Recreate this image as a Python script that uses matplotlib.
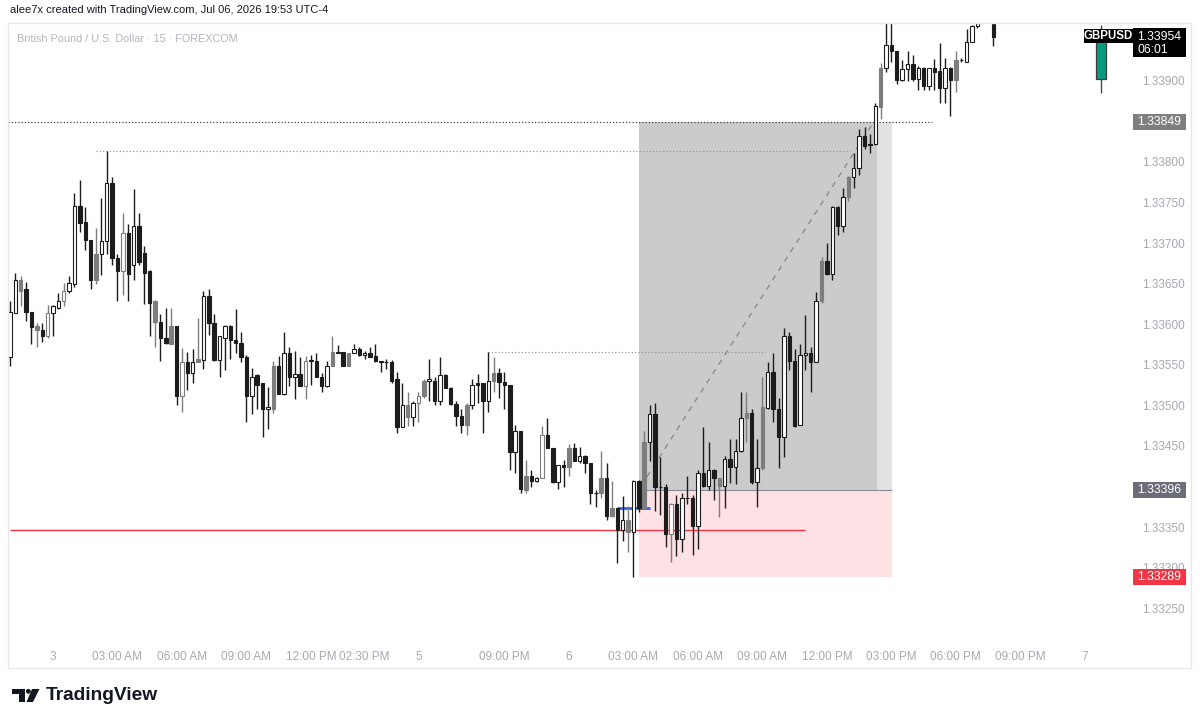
import matplotlib
matplotlib.use("Agg")
import matplotlib.pyplot as plt
from matplotlib.patches import Rectangle, Polygon, Circle
from matplotlib.transforms import Affine2D, blended_transform_factory

plt.rcParams["font.family"] = ["Liberation Sans", "DejaVu Sans"]

# GBPUSD 15m candles, Thu 22:00 -> Mon 19:45 (weekend gap removed)
OPEN = [1.33560, 1.33614, 1.33654, 1.33643, 1.33615, 1.33598, 1.33593, 1.33586, 1.33614, 1.33620,
        1.33629, 1.33641, 1.33649, 1.33746, 1.33726, 1.33704, 1.33655, 1.33687, 1.33702, 1.33774,
        1.33682, 1.33665, 1.33712, 1.33673, 1.33721, 1.33688, 1.33665, 1.33628, 1.33603, 1.33583,
        1.33576, 1.33598, 1.33512, 1.33554, 1.33540, 1.33553, 1.33556, 1.33635, 1.33601, 1.33556,
        1.33583, 1.33598, 1.33581, 1.33577, 1.33560, 1.33512, 1.33537, 1.33527, 1.33495, 1.33495,
        1.33548, 1.33514, 1.33565, 1.33535, 1.33539, 1.33524, 1.33555, 1.33555, 1.33535, 1.33524,
        1.33549, 1.33566, 1.33566, 1.33549, 1.33565, 1.33569, 1.33562, 1.33565, 1.33561, 1.33555,
        1.33554, 1.33553, 1.33532, 1.33473, 1.33500, 1.33486, 1.33503, 1.33512, 1.33530, 1.33530,
        1.33506, 1.33537, 1.33522, 1.33502, 1.33487, 1.33476, 1.33500, 1.33527, 1.33527, 1.33506,
        1.33530, 1.33540, 1.33529, 1.33525, 1.33442, 1.33468, 1.33396, 1.33413, 1.33407, 1.33410,
        1.33464, 1.33447, 1.33406, 1.33426, 1.33424, 1.33447, 1.33432, 1.33438, 1.33429, 1.33392,
        1.33392, 1.33411, 1.33364, 1.33373, 1.33347, 1.33359, 1.33344, 1.33407, 1.33374, 1.33455,
        1.33489, 1.33399, 1.33399, 1.33342, 1.33378, 1.33335, 1.33386, 1.33386, 1.33351, 1.33417,
        1.33401, 1.33421, 1.33410, 1.33401, 1.33434, 1.33424, 1.33444, 1.33484, 1.33491, 1.33406,
        1.33423, 1.33497, 1.33541, 1.33495, 1.33461, 1.33585, 1.33555, 1.33476, 1.33562, 1.33565,
        1.33554, 1.33629, 1.33678, 1.33662, 1.33744, 1.33721, 1.33757, 1.33781, 1.33793, 1.33832,
        1.33822, 1.33822, 1.33867, 1.33916, 1.33944, 1.33936, 1.33901, 1.33914, 1.33920, 1.33902,
        1.33915, 1.33894, 1.33915, 1.33912, 1.33891, 1.33915, 1.33901, 1.33926, 1.33923, 1.33948,
        1.33967, 1.33978, 1.33987, 1.33981]
HIGH = [1.33629, 1.33663, 1.33659, 1.33652, 1.33615, 1.33601, 1.33602, 1.33624, 1.33624, 1.33639,
        1.33651, 1.33659, 1.33762, 1.33777, 1.33744, 1.33704, 1.33718, 1.33756, 1.33813, 1.33781,
        1.33687, 1.33737, 1.33723, 1.33767, 1.33737, 1.33696, 1.33667, 1.33630, 1.33612, 1.33620,
        1.33620, 1.33598, 1.33571, 1.33566, 1.33570, 1.33608, 1.33641, 1.33643, 1.33612, 1.33586,
        1.33599, 1.33599, 1.33619, 1.33591, 1.33562, 1.33546, 1.33539, 1.33528, 1.33523, 1.33555,
        1.33561, 1.33590, 1.33572, 1.33567, 1.33559, 1.33561, 1.33562, 1.33565, 1.33540, 1.33555,
        1.33586, 1.33574, 1.33566, 1.33565, 1.33576, 1.33572, 1.33567, 1.33572, 1.33576, 1.33555,
        1.33557, 1.33556, 1.33541, 1.33528, 1.33517, 1.33506, 1.33517, 1.33532, 1.33557, 1.33535,
        1.33559, 1.33539, 1.33523, 1.33506, 1.33495, 1.33503, 1.33532, 1.33539, 1.33528, 1.33566,
        1.33560, 1.33546, 1.33541, 1.33525, 1.33476, 1.33468, 1.33433, 1.33421, 1.33412, 1.33474,
        1.33484, 1.33448, 1.33427, 1.33433, 1.33453, 1.33454, 1.33449, 1.33439, 1.33429, 1.33396,
        1.33444, 1.33429, 1.33407, 1.33374, 1.33388, 1.33376, 1.33408, 1.33408, 1.33468, 1.33501,
        1.33503, 1.33436, 1.33403, 1.33380, 1.33390, 1.33392, 1.33413, 1.33389, 1.33421, 1.33473,
        1.33455, 1.33422, 1.33411, 1.33438, 1.33458, 1.33458, 1.33517, 1.33516, 1.33496, 1.33458,
        1.33535, 1.33553, 1.33565, 1.33509, 1.33595, 1.33590, 1.33569, 1.33576, 1.33611, 1.33572,
        1.33640, 1.33683, 1.33700, 1.33746, 1.33745, 1.33768, 1.33783, 1.33811, 1.33841, 1.33843,
        1.33834, 1.33872, 1.33922, 1.33981, 1.33975, 1.33937, 1.33925, 1.33936, 1.33931, 1.33918,
        1.33917, 1.33916, 1.33927, 1.33946, 1.33928, 1.33917, 1.33936, 1.33928, 1.33963, 1.33969,
        1.33981, 1.33992, 1.33992, 1.33985]
LOW = [1.33548, 1.33614, 1.33623, 1.33604, 1.33576, 1.33572, 1.33578, 1.33583, 1.33586, 1.33619,
       1.33623, 1.33638, 1.33646, 1.33713, 1.33691, 1.33643, 1.33649, 1.33661, 1.33687, 1.33673,
       1.33629, 1.33636, 1.33628, 1.33655, 1.33673, 1.33625, 1.33586, 1.33572, 1.33555, 1.33576,
       1.33576, 1.33501, 1.33492, 1.33519, 1.33528, 1.33553, 1.33545, 1.33587, 1.33555, 1.33535,
       1.33544, 1.33557, 1.33565, 1.33553, 1.33479, 1.33489, 1.33495, 1.33461, 1.33471, 1.33491,
       1.33514, 1.33513, 1.33524, 1.33508, 1.33524, 1.33508, 1.33525, 1.33535, 1.33516, 1.33523,
       1.33549, 1.33565, 1.33548, 1.33549, 1.33565, 1.33561, 1.33557, 1.33559, 1.33554, 1.33541,
       1.33545, 1.33528, 1.33466, 1.33473, 1.33475, 1.33474, 1.33479, 1.33509, 1.33506, 1.33501,
       1.33500, 1.33521, 1.33501, 1.33474, 1.33466, 1.33463, 1.33496, 1.33503, 1.33466, 1.33492,
       1.33517, 1.33509, 1.33496, 1.33421, 1.33417, 1.33392, 1.33392, 1.33400, 1.33406, 1.33410,
       1.33447, 1.33405, 1.33397, 1.33399, 1.33413, 1.33432, 1.33429, 1.33417, 1.33379, 1.33375,
       1.33386, 1.33359, 1.33362, 1.33306, 1.33333, 1.33319, 1.33289, 1.33369, 1.33374, 1.33431,
       1.33370, 1.33365, 1.33326, 1.33307, 1.33314, 1.33319, 1.33379, 1.33316, 1.33323, 1.33400,
       1.33396, 1.33384, 1.33363, 1.33374, 1.33405, 1.33403, 1.33443, 1.33455, 1.33403, 1.33375,
       1.33421, 1.33495, 1.33480, 1.33423, 1.33436, 1.33544, 1.33473, 1.33476, 1.33544, 1.33517,
       1.33553, 1.33626, 1.33661, 1.33655, 1.33710, 1.33714, 1.33752, 1.33768, 1.33784, 1.33816,
       1.33811, 1.33821, 1.33853, 1.33911, 1.33923, 1.33896, 1.33899, 1.33899, 1.33900, 1.33888,
       1.33888, 1.33888, 1.33888, 1.33873, 1.33872, 1.33856, 1.33886, 1.33923, 1.33923, 1.33948,
       1.33965, 1.33973, 1.33973, 1.33943]
CLOSE = [1.33615, 1.33654, 1.33641, 1.33615, 1.33597, 1.33593, 1.33586, 1.33614, 1.33622, 1.33629,
         1.33641, 1.33651, 1.33746, 1.33725, 1.33704, 1.33655, 1.33687, 1.33702, 1.33774, 1.33681,
         1.33665, 1.33712, 1.33662, 1.33721, 1.33676, 1.33663, 1.33626, 1.33603, 1.33583, 1.33577,
         1.33598, 1.33512, 1.33554, 1.33540, 1.33554, 1.33557, 1.33635, 1.33601, 1.33556, 1.33585,
         1.33598, 1.33580, 1.33577, 1.33560, 1.33512, 1.33535, 1.33525, 1.33495, 1.33498, 1.33548,
         1.33514, 1.33565, 1.33535, 1.33539, 1.33524, 1.33555, 1.33556, 1.33535, 1.33524, 1.33549,
         1.33566, 1.33565, 1.33549, 1.33565, 1.33569, 1.33562, 1.33565, 1.33560, 1.33555, 1.33554,
         1.33554, 1.33530, 1.33473, 1.33500, 1.33486, 1.33503, 1.33512, 1.33530, 1.33532, 1.33506,
         1.33537, 1.33522, 1.33502, 1.33487, 1.33476, 1.33500, 1.33525, 1.33525, 1.33506, 1.33530,
         1.33540, 1.33529, 1.33525, 1.33442, 1.33468, 1.33397, 1.33413, 1.33407, 1.33411, 1.33464,
         1.33447, 1.33406, 1.33426, 1.33424, 1.33447, 1.33432, 1.33438, 1.33429, 1.33392, 1.33392,
         1.33411, 1.33364, 1.33373, 1.33347, 1.33359, 1.33344, 1.33407, 1.33374, 1.33455, 1.33489,
         1.33399, 1.33399, 1.33342, 1.33378, 1.33336, 1.33386, 1.33386, 1.33351, 1.33417, 1.33401,
         1.33421, 1.33410, 1.33401, 1.33434, 1.33424, 1.33444, 1.33484, 1.33491, 1.33406, 1.33423,
         1.33498, 1.33541, 1.33495, 1.33461, 1.33585, 1.33555, 1.33474, 1.33562, 1.33565, 1.33554,
         1.33629, 1.33678, 1.33662, 1.33744, 1.33721, 1.33757, 1.33781, 1.33793, 1.33832, 1.33820,
         1.33821, 1.33869, 1.33916, 1.33944, 1.33936, 1.33901, 1.33914, 1.33920, 1.33902, 1.33915,
         1.33894, 1.33916, 1.33911, 1.33891, 1.33915, 1.33901, 1.33926, 1.33926, 1.33948, 1.33967,
         1.33978, 1.33987, 1.33981, 1.33954]

# candles that are drawn in grey instead of black
GRAY_FILLED = [2, 5, 16, 27, 30, 35, 49, 60, 63, 74, 77, 85, 90, 96, 104, 110, 112, 115, 118,
               132, 137, 140, 151, 156, 162, 176]
GRAY_OUTLINE = [7, 10, 21, 32, 55, 76, 99, 123]

# day candle shown next to the price scale
DAY_INDEX = 203
DAY_OHLC = (1.33902, 1.33968, 1.33885, 1.33954)
LAST_PRICE = 1.33954
COUNTDOWN = "06:01"

# long position tool
ENTRY, TARGET, STOP = 1.33396, 1.33849, 1.33289
POS_START, POS_FILL_END, POS_END = 117.0, 161.3, 164.1
PATH_X = [118.5, 160.6]
PATH_Y = [1.33412, 1.33848]

# other drawings
TARGET_LINE_END = 171.5
HIGH_LEVELS = [1.33813, 1.33566]
HIGH_SPANS = [(16.0, 156.3), (89.0, 140.5)]
RED_LEVEL, RED_SPAN = 1.33347, (0.0, 147.9)
BLUE_LEVEL, BLUE_SPAN = 1.33373, (112.9, 119.1)

TIME_TICKS = [8, 20, 32, 44, 56, 66, 76, 92, 104, 116, 128, 140, 152, 164, 176, 188, 200]
TIME_LABELS = ["3", "03:00 AM", "06:00 AM", "09:00 AM", "12:00 PM", "02:30 PM", "5", "09:00 PM", "6",
               "03:00 AM", "06:00 AM", "09:00 AM", "12:00 PM", "03:00 PM", "06:00 PM", "09:00 PM", "7"]
# 1.33400 and 1.33850 sit fully under the entry / target labels
PRICE_TICKS = [1.3325, 1.3330, 1.3335, 1.3345, 1.3350, 1.3355, 1.3360, 1.3365,
               1.3370, 1.3375, 1.3380, 1.3390]

W, H = 1200, 725
Y_MIN, Y_MAX = 1.33211, 1.33971
X_MIN, X_MAX = -0.37, 208.4
AX_L, AX_R, AX_T, AX_B = 8, 1130, 23, 640

fig = plt.figure(figsize=(W / 100, H / 100), dpi=100)
fig.patch.set_facecolor("white")
ax = fig.add_axes([AX_L / W, 1 - AX_B / H, (AX_R - AX_L) / W, (AX_B - AX_T) / H])
ax.set_xlim(X_MIN, X_MAX)
ax.set_ylim(Y_MIN, Y_MAX)
for s in ax.spines.values():
    s.set_visible(False)

px = Affine2D().scale(1 / W, -1 / H).translate(0, 1) + fig.transFigure
PPP = (AX_B - AX_T) / (Y_MAX - Y_MIN)  # pixels per price unit

# outer chart frame
fig.patches.append(Rectangle((8, 23), 1183, 645, transform=px, fill=False,
                             edgecolor="#e6e8ee", lw=1))

# position tool boxes
ax.add_patch(Rectangle((POS_START, ENTRY), POS_END - POS_START, TARGET - ENTRY,
                       facecolor="#e2e2e2", edgecolor="none", zorder=1))
ax.add_patch(Rectangle((POS_START, ENTRY), POS_FILL_END - POS_START, TARGET - ENTRY,
                       facecolor="#cbcbcb", edgecolor="none", zorder=1.1))
ax.add_patch(Rectangle((POS_START, STOP), POS_END - POS_START, ENTRY - STOP,
                       facecolor="#fde1e4", edgecolor="none", zorder=1))
ax.hlines(ENTRY, POS_START, POS_END, color="#8b8e98", lw=0.8, zorder=1.2)
ax.plot(PATH_X, PATH_Y, color="#8c8c8c", lw=1, ls=(0, (4, 4)), zorder=1.3)

# horizontal lines
ax.hlines(TARGET, X_MIN, TARGET_LINE_END, color="#444444", lw=0.9, ls=(0, (1, 1.6)), zorder=2)
for lvl, (x0, x1) in zip(HIGH_LEVELS, HIGH_SPANS):
    ax.hlines(lvl, x0, x1, color="#8a8a8a", lw=0.8, ls=(0, (1, 2)), zorder=2)
ax.hlines(RED_LEVEL, RED_SPAN[0], RED_SPAN[1], color="#f23645", lw=1, zorder=2)
ax.hlines(BLUE_LEVEL, BLUE_SPAN[0], BLUE_SPAN[1], color="#2962ff", lw=2, zorder=2)

# candles
for i, (o, h, l, c) in enumerate(zip(OPEN, HIGH, LOW, CLOSE)):
    grey = i in GRAY_FILLED or i in GRAY_OUTLINE
    edge = "#7d7d7d" if grey else "#1c1c1c"
    if i in GRAY_FILLED:
        face = edge
    elif c >= o or i in GRAY_OUTLINE:
        face = "white"
    else:
        face = edge
    ax.vlines(i, l, h, color=edge, lw=1, zorder=3)
    ax.add_patch(Rectangle((i - 0.32, min(o, c)), 0.64, abs(c - o),
                           facecolor=face, edgecolor=edge, lw=0.8, zorder=4))

# day candle
do, dh, dl, dc = DAY_OHLC
ax.vlines(DAY_INDEX, dl, dh, color="#4a4a4a", lw=1, zorder=3)
ax.add_patch(Rectangle((DAY_INDEX - 1.0, min(do, dc)), 2.0, abs(dc - do),
                       facecolor="#089981", edgecolor="#3a3a3a", lw=0.9, zorder=4))

# axes ticks
ax.yaxis.tick_right()
ax.set_yticks(PRICE_TICKS)
ax.set_yticklabels([f"{p:.5f}" for p in PRICE_TICKS])
ax.tick_params(axis="y", length=0, pad=8.5, labelsize=8.5, labelcolor="#a6a9b2")
ax.set_xticks(TIME_TICKS)
ax.set_xticklabels(TIME_LABELS)
ax.tick_params(axis="x", length=0, pad=8, labelsize=8.5, labelcolor="#a6a9b2")

# price scale labels
bt = blended_transform_factory(fig.transFigure, ax.transData)


def scale_box(price, text, color, up_px=8, down_px=8):
    ax.add_patch(Rectangle((1133 / W, price - down_px / PPP), 53 / W, (up_px + down_px) / PPP,
                           transform=bt, facecolor=color, edgecolor="none",
                           clip_on=False, zorder=6))
    ax.text(1159.5 / W, price, text, transform=bt, color="white", fontsize=8.8,
            ha="center", va="center", clip_on=False, zorder=7)


scale_box(TARGET, f"{TARGET:.5f}", "#7f7f7f")
scale_box(ENTRY, f"{ENTRY:.5f}", "#6b6e79")
scale_box(STOP, f"{STOP:.5f}", "#f23645")
scale_box(LAST_PRICE, f"{LAST_PRICE:.5f}", "#000000", up_px=9, down_px=20)
ax.text(1137 / W, LAST_PRICE - 13 / PPP, COUNTDOWN, transform=bt, color="white",
        fontsize=8.8, ha="left", va="center", clip_on=False, zorder=7)
ax.add_patch(Rectangle((1084 / W, LAST_PRICE - 6 / PPP), 49 / W, 14 / PPP, transform=bt,
                       facecolor="#000000", edgecolor="none", clip_on=False, zorder=6))
ax.text(1108.5 / W, LAST_PRICE + 1 / PPP, "GBPUSD", transform=bt, color="white", fontsize=8.3,
        fontweight="bold", ha="center", va="center", clip_on=False, zorder=7)

# header texts
fig.text(10 / W, 1 - 10 / H, "alee7x created with TradingView.com, Jul 06, 2026 19:53 UTC-4",
         fontsize=8.0, color="#131722", va="center")
fig.text(17 / W, 1 - 39 / H, "British Pound / U.S. Dollar \u00b7 15 \u00b7 FOREXCOM",
         fontsize=7.8, color="#b2b5be", va="center")

# TradingView logo
fig.patches.append(Polygon([(12, 689), (25, 689), (25, 702), (19, 702), (19, 694), (12, 694)],
                           closed=True, transform=px, facecolor="#131722", edgecolor="none"))
fig.patches.append(Circle((28.3, 691.3), 2.4, transform=px, facecolor="#131722", edgecolor="none"))
fig.patches.append(Polygon([(32, 689), (39.5, 689), (33, 702), (26.5, 702)], closed=True,
                           transform=px, facecolor="#131722", edgecolor="none"))
fig.text(46 / W, 1 - 695.5 / H, "TradingView", fontsize=13.8, fontweight="bold",
         color="#131722", va="center")

fig.savefig("out.png", dpi=100, facecolor="white")
